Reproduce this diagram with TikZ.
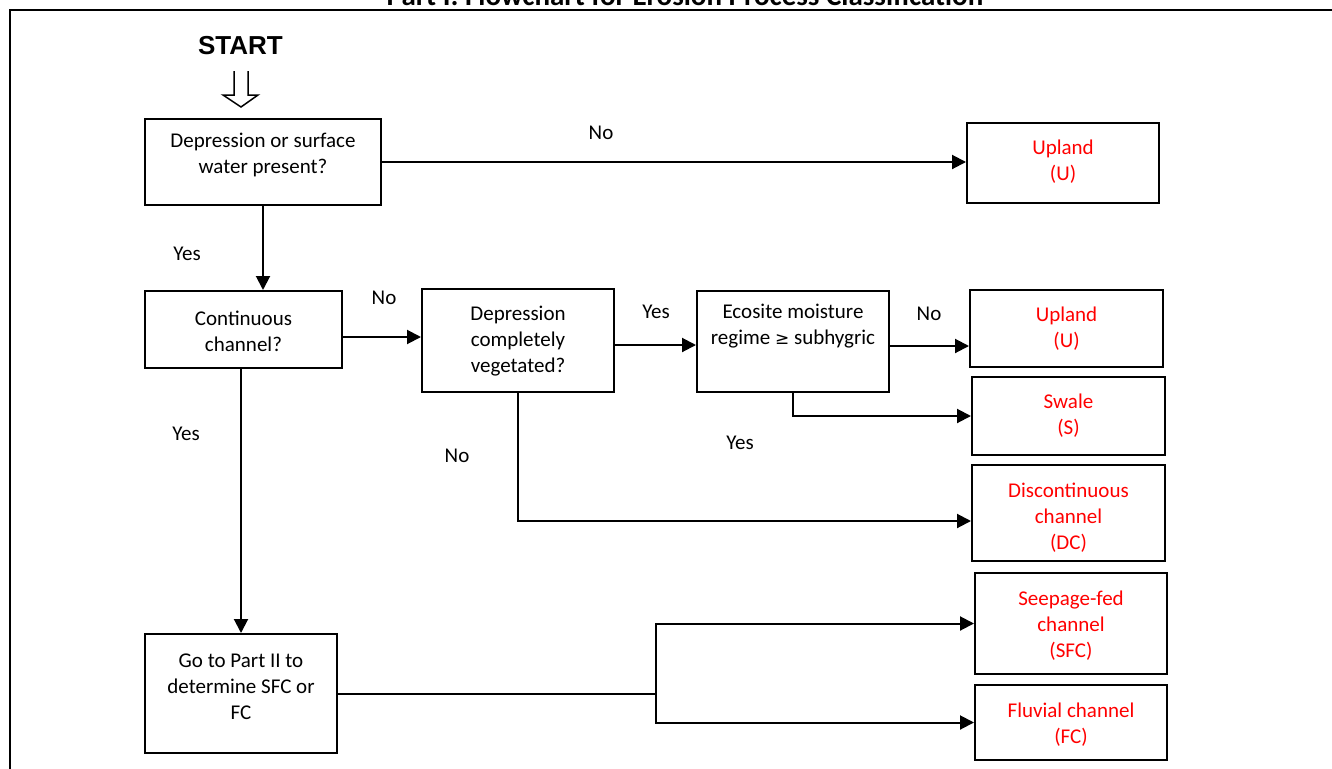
\documentclass[tikz,border=0pt]{standalone}
\usepackage{fontspec}
\setmainfont{Carlito}
\newfontfamily\arialf{Liberation Sans}
\usetikzlibrary{arrows.meta,positioning,calc}
\definecolor{outred}{RGB}{255,0,0}
\begin{document}
\begin{tikzpicture}[x=1pt,y=-1pt,
  box/.style={draw, line width=2pt, inner sep=0pt},
  txt/.style={align=center, font=\fontsize{21}{26}\selectfont, inner sep=0pt, yshift=-2pt},
  rtxt/.style={txt, text=outred},
  lbl/.style={font=\fontsize{21}{26}\selectfont, inner sep=0pt, yshift=-1pt},
  arr/.style={line width=2pt, -{Triangle[length=14pt,width=14pt]}},
  conn/.style={line width=2pt}
]
\useasboundingbox (0,0) rectangle (1332,768);
% frame and title
\draw[line width=2.6pt] (10,780) -- (10,10) -- (1345,10);
\node[font=\fontsize{29}{33}\selectfont\bfseries, anchor=base, inner sep=0pt] (title) at (685,5.5) {Part I: Flowchart for Erosion Process Classification};

% START
\node[font=\arialf\fontsize{26}{30}\selectfont\bfseries, inner sep=0pt] (start) at (240.5,46) {START};
\draw[line width=1.5pt, line join=miter] (234,71) -- (234,95) -- (223,95) -- (241,107) -- (258,95) -- (248,95) -- (248,71);

% boxes
\node[box, minimum width=236, minimum height=86] (b1) at (263,162) {};
\node[txt] (b1t) at (263,152.5) {Depression or surface\\water present?};

\node[box, minimum width=192, minimum height=80] (u1) at (1063,163) {};
\node[rtxt] (u1t) at (1063,160) {Upland\\(U)};

\node[box, minimum width=197, minimum height=77] (cc) at (243.5,329.5) {};
\node[txt] (cct) at (243.5,329) {Continuous\\channel?};

\node[box, minimum width=192, minimum height=103] (dv) at (518,340.5) {};
\node[txt] (dvt) at (518,339) {Depression\\completely\\vegetated?};

\node[box, minimum width=192, minimum height=101] (em) at (793,341.5) {};
\node[txt] (emt) at (793,324.5) {Ecosite moisture\\regime {\fontspec{DejaVu Sans}\fontsize{17}{20}\selectfont ≥} subhygric};

\node[box, minimum width=193, minimum height=77] (u2) at (1066.5,328.5) {};
\node[rtxt] (u2t) at (1066.5,327) {Upland\\(U)};

\node[box, minimum width=193, minimum height=78] (sw) at (1068.5,416) {};
\node[rtxt] (swt) at (1068.5,414) {Swale\\(S)};

\node[box, minimum width=193, minimum height=96] (dc) at (1068.5,513) {};
\node[rtxt] (dct) at (1068.5,515.5) {Discontinuous\\channel\\(DC)};

\node[box, minimum width=192, minimum height=119] (gt) at (241,693.5) {};
\node[txt] (gtt) at (241,684.5) {Go to Part II to\\determine SFC or\\FC};

\node[box, minimum width=192, minimum height=101] (sfc) at (1071,623.5) {};
\node[rtxt] (sfct) at (1071,623.5) {Seepage-fed\\channel\\(SFC)};

\node[box, minimum width=192, minimum height=75] (fc) at (1071,722.5) {};
\node[rtxt] (fct) at (1071,723) {Fluvial channel\\(FC)};

% connectors
\draw[arr] (b1.east) -- (b1.east -| u1.west);
\draw[arr] (b1.south) -- (b1.south |- cc.north);
\draw[arr] ([yshift=-7.5pt]cc.east) -- ([yshift=-7.5pt]cc.east -| dv.west);
\draw[arr] ([yshift=-4.5pt]dv.east) -- ([yshift=-4.5pt]dv.east -| em.west);
\draw[arr] ([yshift=-4.5pt]em.east) -- ([yshift=-4.5pt]em.east -| u2.west);
\draw[arr] (em.south) |- (sw.west);
\draw[arr] (dv.south) |- ([yshift=-8pt]dc.west);
\draw[arr] (cc.south -| gt.north) -- (gt.north);
\coordinate (j) at (656,693.5);
\draw[conn] (gt.east) -- (j);
\draw[arr] (j) |- (sfc.west);
\draw[arr] (j) |- (fc.west);

% labels
\node[lbl] (l1) at (601,132) {No};
\node[lbl] (l2) at (187,253) {Yes};
\node[lbl] (l3) at (384,297) {No};
\node[lbl] (l4) at (656,311) {Yes};
\node[lbl] (l5) at (929,313) {No};
\node[lbl] (l6) at (740,442) {Yes};
\node[lbl] (l7) at (457,455) {No};
\node[lbl] (l8) at (186,433) {Yes};
\end{tikzpicture}
\end{document}
